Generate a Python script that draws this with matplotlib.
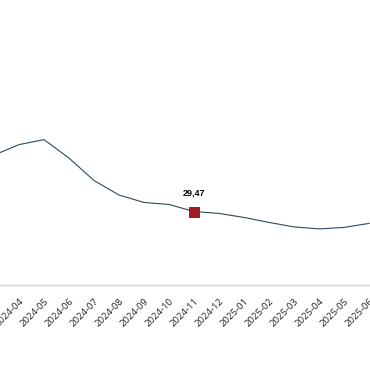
import matplotlib
matplotlib.use("Agg")
import matplotlib.pyplot as plt

# ── Data ──────────────────────────────────────────────────────────────────────
months = ["2024-03", "2024-04", "2024-05", "2024-06", "2024-07", "2024-08",
          "2024-09", "2024-10", "2024-11", "2024-12", "2025-01", "2025-02",
          "2025-03", "2025-04", "2025-05", "2025-06"]
values = [52.1, 56.3, 58.3, 50.9, 41.9, 36.1, 33.1, 32.3, 29.47, 28.7,
          27.1, 25.1, 23.3, 22.5, 23.1, 24.7]
highlight_month = "2024-11"
highlight_label = "29,47"

LINE_COLOR = "#2e4a5c"
MARK_COLOR = "#a01c22"

x = list(range(len(months)))
hi = months.index(highlight_month)

fig = plt.figure(figsize=(3.7, 3.8), dpi=100)
# axes intentionally wider than the figure: the reference is a crop
ax = fig.add_axes([-0.05, 0.25, 1.081, 0.75])

ax.plot(x, values, color=LINE_COLOR, linewidth=0.8, zorder=2)
ax.plot(x[hi], values[hi], marker="s", markersize=7.2, color=MARK_COLOR,
        markeredgecolor="#7a1418", markeredgewidth=0.6, zorder=3)
ax.annotate(highlight_label, (x[hi], values[hi]), xytext=(0, 13.5),
            textcoords="offset points", ha="center", va="center",
            fontsize=6.5, fontweight="bold", family="Liberation Sans")

ax.set_xlim(-0.5, len(months) - 0.5)
ax.set_ylim(0, 114.3)
ax.set_xticks(x)
ax.set_xticklabels(months, rotation=45, ha="right", rotation_mode="anchor",
                   fontsize=6.8, family="Open Sans", color="#222222")
ax.tick_params(axis="x", length=0, pad=8.5)
ax.set_yticks([])
for side in ["top", "left", "right"]:
    ax.spines[side].set_visible(False)
ax.spines["bottom"].set_color("#d9d9d9")
ax.spines["bottom"].set_linewidth(1.0)

fig.savefig("out.png", dpi=100)
